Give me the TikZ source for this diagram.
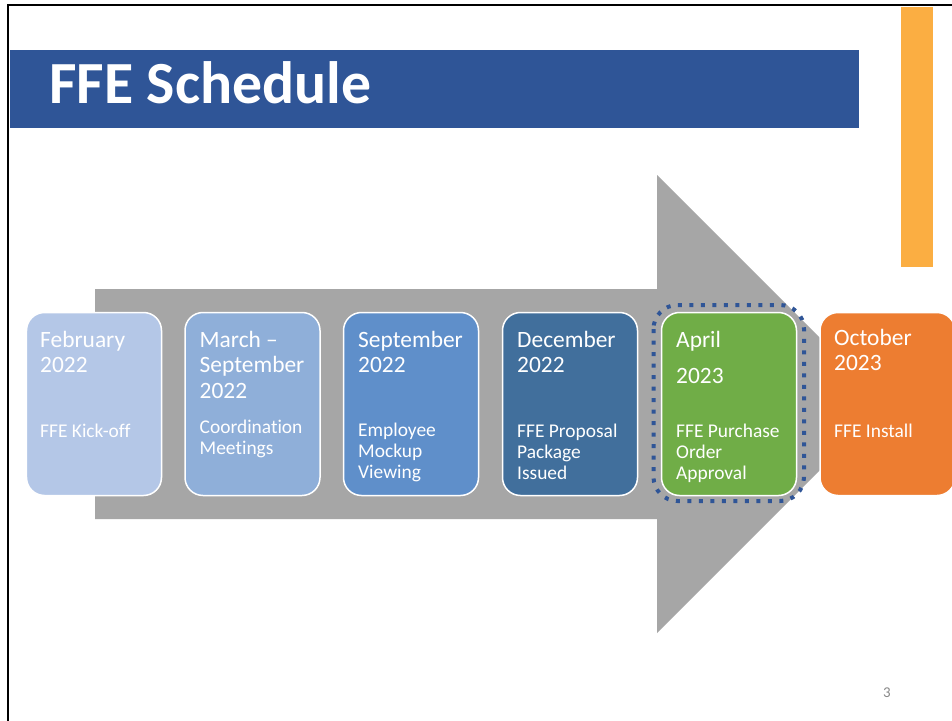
\documentclass[tikz,border=0pt]{standalone}
\usepackage{fontspec}
\setmainfont{Carlito}[Ligatures=NoCommon]
\definecolor{titleblue}{HTML}{2F5597}
\definecolor{barorange}{HTML}{FBAE42}
\definecolor{arrowgray}{HTML}{A6A6A6}
\definecolor{cA}{HTML}{B4C7E7}
\definecolor{cB}{HTML}{8FAFD9}
\definecolor{cC}{HTML}{5F8FCA}
\definecolor{cD}{HTML}{416F9C}
\definecolor{cE}{HTML}{70AD47}
\definecolor{cF}{HTML}{ED7D31}
\definecolor{dotblue}{HTML}{2F5597}
\definecolor{pagegray}{HTML}{888888}
\newcommand{\stack}[1]{\begin{tabular}[t]{@{}l@{}}#1\end{tabular}}
\tikzset{
  box/.style={draw=white, line width=1.5bp, rounded corners=18bp,
    minimum width=135bp, minimum height=183bp, inner sep=0pt},
  datetxt/.style={anchor=base west, inner sep=0pt, text=white,
    font=\fontsize{23.5}{25.8}\selectfont},
  desctxt/.style={anchor=base west, inner sep=0pt, text=white,
    font=\fontsize{19.5}{21.3}\selectfont},
}
\begin{document}
\begin{tikzpicture}[x=1bp,y=-1bp]
\useasboundingbox (0,0) rectangle (952,721);
\fill[white] (0,0) rectangle (952,721);
% slide frame
\draw[black, line width=2bp] (8,722) -- (8,5) -- (953,5);
% title bar
\fill[titleblue] (10,50) rectangle (859,128);
\node[anchor=base west, inner sep=0pt, text=white,
  font=\fontsize{60}{64}\selectfont\bfseries] (title) at (49,104) {FFE Schedule};
% orange accent bar
\fill[barorange] (901,7) rectangle (933,267);
% big arrow
\fill[arrowgray] (95,289) -- (657,289) -- (657,175) -- (886,404)
  -- (657,633) -- (657,519) -- (95,519) -- cycle;
% boxes
\node[box, fill=cA] (b1) at (94,404) {};
\node[box, fill=cB] (b2) at (252.5,404) {};
\node[box, fill=cC] (b3) at (411,404) {};
\node[box, fill=cD] (b4) at (570,404) {};
\node[box, fill=cE] (b5) at (729,404) {};
\node[box, fill=cF] (b6) at (887.5,404) {};
% highlight
\draw[dotblue, line width=4bp, dash pattern=on 4bp off 7.5bp, rounded corners=24bp]
  (653.5,305) rectangle (804,501);
% texts
\node[datetxt] (t1) at (40,347) {\stack{February\\2022}};
\node[desctxt] (d1) at (40,437) {\stack{FFE Kick-off}};
\node[datetxt] (t2) at (199.5,347) {\stack{March –\\September\\2022}};
\node[desctxt] (d2) at (199.5,433) {\stack{Coordination\\Meetings}};
\node[datetxt] (t3) at (358,347) {\stack{September\\2022}};
\node[desctxt] (d3) at (358,436) {\stack{Employee\\Mockup\\Viewing}};
\node[datetxt] (t4) at (517,347) {\stack{December\\2022}};
\node[desctxt] (d4) at (517,437) {\stack{FFE Proposal\\Package\\Issued}};
\node[datetxt] (t5a) at (676,347) {April};
\node[datetxt] (t5b) at (676,383) {2023};
\node[desctxt] (d5) at (676,437) {\stack{FFE Purchase\\Order\\Approval}};
\node[datetxt] (t6) at (834,345) {\stack{October\\2023}};
\node[desctxt] (d6) at (834,437) {\stack{FFE Install}};
% page number
\node[anchor=base, inner sep=0pt, text=pagegray, font=\fontsize{15}{17}\selectfont] (pg) at (887,697) {3};
\end{tikzpicture}
\end{document}
